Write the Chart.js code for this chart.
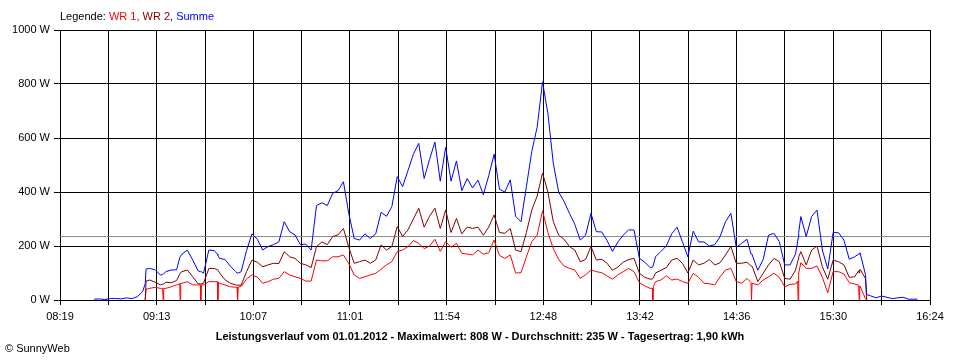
<!DOCTYPE html>
<html>
<head>
<meta charset="utf-8">
<script src="https://cdn.jsdelivr.net/npm/chart.js@4"></script>
<style>
  html, body { margin: 0; padding: 0; background: #fff; }
  canvas { display: block; }
</style>
</head>
<body>
<canvas id="chart" width="960" height="360"></canvas>
<script>
// time of each sample, minutes after midnight
const times = [
  518, 521, 524, 527, 530, 533, 536, 539, 542, 545,
  546.5, 547, 549, 552, 555, 556.2, 556.5, 556.8, 558, 561,
  564, 565.7, 566, 566.3, 567, 570, 573, 576, 577.2, 577.5,
  577.8, 579, 582, 585, 586.7, 587, 587.3, 588, 591, 594,
  597, 597.7, 598, 598.3, 600, 603, 606, 609, 612, 615,
  618, 621, 624, 627, 630, 633, 636, 639, 642, 645,
  648, 651, 654, 657, 660, 663, 666, 669, 672, 675,
  678, 681, 684, 687, 690, 693, 696, 699, 702, 705,
  708, 711, 714, 717, 720, 723, 726, 729, 732, 735,
  738, 741, 744, 747, 750, 753, 756, 759, 762, 765,
  768, 771, 774, 777, 780, 783, 786, 789, 792, 795,
  798, 801, 804, 807, 810, 813, 816, 819, 822, 825,
  828, 829.2, 829.5, 829.8, 831, 834, 837, 840, 843, 846,
  849, 852, 855, 858, 861, 864, 867, 870, 873, 876,
  879, 882, 884.2, 884.5, 884.8, 885, 888, 891, 894, 897,
  900, 903, 906, 909, 910.2, 910.5, 910.8, 912, 915, 918,
  921, 924, 927, 930, 933, 936, 939, 942, 944.2, 944.5,
  944.8, 945, 948, 948.7, 951, 954, 957, 960, 963, 966,
  969, 972, 975, 977
];
const wr1 = [
  null, null, null, null, null, null, null, null, null, null,
  0, 40, 43, 47, 43, 43, 0, 43, 43, 49,
  56, 60, 0, 62, 62, 68, 56, 56, 56, 0,
  56, 56, 68, 68, 68, 0, 64, 62, 56, 49,
  47, 47, 0, 48, 50, 78, 93, 85, 62, 68,
  77, 80, 105, 93, 86, 80, 70, 70, 148, 145,
  145, 160, 160, 167, 135, 93, 80, 86, 93, 99,
  114, 130, 142, 179, 185, 198, 220, 210, 190, 200,
  225, 180, 216, 195, 210, 173, 170, 167, 185, 170,
  175, 222, 165, 154, 167, 100, 101, 160, 216, 240,
  330, 250, 190, 150, 126, 117, 111, 80, 93, 111,
  105, 101, 89, 77, 93, 105, 117, 105, 64, 52,
  43, 43, 0, 50, 68, 74, 90, 74, 78, 68,
  62, 99, 84, 62, 60, 56, 86, 111, 117, 68,
  62, 80, 65, 0, 62, 62, 56, 74, 86, 99,
  84, 49, 58, 59, 70, 0, 100, 138, 117, 117,
  126, 84, 27, 105, 105, 96, 64, 59, 55, 0,
  52, 52, 5, 0, null, null, null, null, null, null,
  null, null, null, null
];
const wr2 = [
  null, null, null, null, null, null, null, null, null, null,
  0, 70, 74, 66, 56, 58, 58, 58, 66, 64,
  72, 95, 100, 100, 105, 111, 86, 60, 60, 60,
  60, 62, 117, 117, 112, 110, 108, 100, 75, 62,
  56, 55, 55, 55, 55, 105, 148, 140, 123, 130,
  136, 135, 179, 160, 154, 136, 130, 120, 198, 215,
  205, 235, 241, 265, 195, 136, 142, 148, 136, 148,
  204, 185, 198, 272, 235, 260, 300, 340, 270, 310,
  340, 265, 333, 250, 302, 245, 270, 265, 270, 240,
  270, 315, 250, 247, 265, 185, 179, 250, 333, 385,
  470, 400, 290, 240, 225, 198, 185, 142, 150, 198,
  148, 151, 136, 110, 122, 140, 150, 154, 99, 84,
  77, 78, 80, 82, 100, 110, 120, 148, 154, 136,
  100, 148, 130, 136, 150, 130, 138, 167, 198, 136,
  136, 140, 125, 125, 124, 123, 68, 99, 130, 154,
  142, 80, 77, 110, 140, 150, 160, 179, 130, 185,
  200, 123, 77, 148, 142, 130, 84, 86, 108, 100,
  112, 114, 80, 0, null, null, null, null, null, null,
  null, null, null, null
];
const summe = [
  3, 4, 2, 5, 6, 4, 8, 5, 12, 30,
  60, 115, 117, 112, 92, 95, 95, 95, 105, 111,
  112, 155, 160, 160, 170, 185, 148, 108, 105, 105,
  105, 99, 185, 183, 170, 165, 162, 154, 150, 125,
  105, 100, 100, 100, 105, 183, 245, 225, 185, 198,
  205, 215, 290, 253, 241, 205, 207, 185, 350, 360,
  350, 395, 405, 438, 320, 228, 222, 245, 228, 245,
  325, 310, 346, 457, 420, 480, 540, 580, 450, 520,
  585, 440, 565, 440, 515, 405, 450, 415, 444, 390,
  460, 540, 410, 400, 445, 310, 290, 420, 550, 640,
  808, 690, 506, 400, 365, 321, 280, 222, 240, 321,
  253, 252, 220, 180, 215, 240, 260, 259, 154, 140,
  120, 122, 125, 130, 160, 180, 200, 245, 270, 215,
  160, 255, 215, 215, 200, 205, 235, 290, 321, 195,
  210, 225, 170, 170, 168, 165, 110, 150, 240, 247,
  216, 130, 130, 170, 215, 230, 250, 309, 235, 309,
  333, 185, 115, 250, 249, 222, 151, 160, 170, 170,
  174, 175, 95, 20, 15, 8, 15, 10, 5, 8,
  10, 3, 3, 3
];
const average = 235;

const xMin = 499;   // 08:19
const xMax = 984;   // 16:24
const xLabels = ['08:19', '09:13', '10:07', '11:01', '11:54', '12:48', '13:42', '14:36', '15:30', '16:24'];
const yTicks = [0, 200, 400, 600, 800, 1000];

const legendParts = [['Legende: ', '#000000'], ['WR 1, ', '#ff0000'], ['WR 2, ', '#800000'], ['Summe', '#0000ff']];
const titleText = 'Leistungsverlauf vom 01.01.2012 - Maximalwert: 808 W - Durchschnitt: 235 W - Tagesertrag: 1,90 kWh';
const copyText = '\u00a9 SunnyWeb';

const fontFamily = '"Liberation Sans", Arial, sans-serif';

function series(label, values, color, order) {
    return {
        label: label,
        data: times.map((t, i) => ({ x: t, y: values[i] })),
        borderColor: color,
        borderWidth: 1,
        pointRadius: 0,
        tension: 0,
        fill: false,
        spanGaps: false,
        order: order
    };
}

const textPlugin = {
    id: 'texts',
    afterDraw(chart) {
        const ctx = chart.ctx;
        ctx.save();
        ctx.textBaseline = 'middle';
        ctx.font = '11px ' + fontFamily;
        let x = 60;
        legendParts.forEach(([text, color]) => {
            ctx.fillStyle = color;
            ctx.fillText(text, x, 17);
            x += ctx.measureText(text).width;
        });
        ctx.fillStyle = '#000';
        ctx.fillText(copyText, 5, 349);
        ctx.font = 'bold 11px ' + fontFamily;
        ctx.textAlign = 'center';
        ctx.fillText(titleText, 480, 337);
        ctx.restore();
    }
};

new Chart(document.getElementById('chart').getContext('2d'), {
    type: 'line',
    data: {
        datasets: [
            series('Summe', summe, '#0000ff', 0),
            series('WR 2', wr2, '#800000', 1),
            series('WR 1', wr1, '#ff0000', 2),
            {
                label: 'Durchschnitt',
                data: [{ x: xMin, y: average }, { x: xMax, y: average }],
                borderColor: '#8c8c8c',
                borderWidth: 1,
                pointRadius: 0,
                order: 3
            }
        ]
    },
    options: {
        responsive: false,
        animation: false,
        events: [],
        layout: { padding: { left: 0, right: 30, top: 30, bottom: 0 } },
        plugins: { legend: { display: false }, tooltip: { enabled: false } },
        scales: {
            x: {
                type: 'linear',
                min: xMin,
                max: xMax,
                afterBuildTicks: scale => {
                    const step = (xMax - xMin) / 18;
                    scale.ticks = Array.from({ length: 19 }, (_, k) => ({ value: xMin + k * step }));
                },
                afterFit: scale => { scale.height = 60; },
                grid: { color: '#000', lineWidth: 1, tickLength: 5 },
                border: { color: '#000' },
                ticks: {
                    autoSkip: false,
                    maxRotation: 0,
                    padding: 5,
                    color: '#000',
                    font: { family: fontFamily, size: 11 },
                    callback: (value, index) => index % 2 === 0 ? xLabels[index / 2] : ''
                }
            },
            y: {
                min: 0,
                max: 1000,
                afterBuildTicks: scale => { scale.ticks = yTicks.map(v => ({ value: v })); },
                afterFit: scale => { scale.width = 60; },
                grid: { color: '#000', lineWidth: 1, tickLength: 6 },
                border: { color: '#000' },
                ticks: {
                    padding: 4,
                    color: '#000',
                    font: { family: fontFamily, size: 11 },
                    callback: v => v + ' W'
                }
            }
        }
    },
    plugins: [textPlugin]
});
</script>
</body>
</html>
